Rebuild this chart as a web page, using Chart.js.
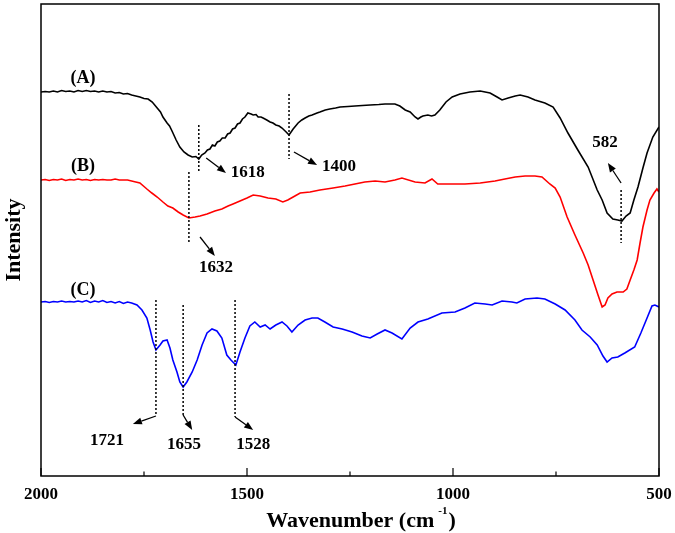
<!DOCTYPE html>
<html><head><meta charset="utf-8">
<script src="https://cdn.jsdelivr.net/npm/chart.js@4.4.1/dist/chart.umd.min.js"></script>
<style>html,body{margin:0;padding:0;background:#fff}</style>
</head><body>
<canvas id="c" width="675" height="533"></canvas>
<script>
// ---------- data (wavenumber in cm-1, intensity in arbitrary units) ----------
const wnA = [2000,1990,1980,1970,1960,1950,1940,1930,1920,1910,
  1900,1890,1880,1870,1860,1850,1840,1830,1820,1810,
  1800,1790,1780,1770,1760,1750,1740,1730,1718,1710,
  1704,1694,1688,1682,1672,1663,1653,1643,1633,1624,
  1617,1610,1602,1596,1590,1584,1578,1572,1566,1560,
  1553,1547,1541,1535,1529,1523,1517,1511,1505,1498,
  1490,1485,1478,1473,1466,1461,1452,1444,1437,1430,
  1422,1415,1405,1398,1388,1376,1367,1359,1350,1342,
  1330,1323,1310,1299,1285,1274,1255,1238,1220,1201,
  1180,1165,1150,1141,1129,1116,1104,1092,1085,1078,
  1073,1061,1052,1044,1032,1017,1002,983,959,934,
  910,893,881,866,849,837,818,801,777,757,
  740,721,697,672,650,638,626,612,600,590,
  580,570,561,551,539,529,515,500];
const intA = [384,384.5,384,385,384,385.5,384.5,385,384,385.5,
  384.5,385.5,384.5,385,384,385,384,384.5,383,383.5,
  382,382.5,381,380,379,377.5,377,374,368,364,
  359,353,350,345,336,329,324,321,319,319.5,
  317,321,323,326,327,331,330,334,335,338,
  338,342,343,347,348,352,353,357,359,363,
  362,361,361.5,359,359,358,356,354,353,351,
  350,348,344,341,347,353,356,358,360,361,
  363,364,366,367,368,369,369.5,370,370.5,371,
  371.5,372,372,372,370,366,364,359,357,359,
  360,361,360,361,366,374,379,382,384,385,
  383,379,376,378,380,381,379,376,373,369,
  358,343,326,309,286,276,263,257,256,255,
  260,263,276,289,308,323,339,349];

const wnB = [2000,1990,1980,1970,1960,1950,1940,1930,1920,1910,
  1900,1890,1880,1870,1860,1850,1840,1830,1820,1810,
  1800,1790,1780,1770,1760,1743,1731,1718,1704,1692,
  1680,1667,1655,1641,1626,1614,1597,1578,1561,1546,
  1534,1517,1500,1485,1468,1449,1430,1413,1401,1388,
  1371,1347,1323,1291,1262,1238,1214,1189,1165,1141,
  1124,1092,1068,1051,1037,1007,971,934,898,874,
  849,825,801,784,765,752,740,723,704,684,
  672,660,648,638,631,624,614,602,587,578,
  570,561,553,546,539,529,522,512,505,500];
const intB = [296,296.5,295.5,296.5,296,297,295.5,296.5,296,297,
  296,296.5,295.5,296.5,296,296.5,296,296,297,296,
  296,296,295,294,293,287,283,279,274,270,
  268,264,261,258,259,260,262,265,267,270,
  272,275,278,281,280,278,277,274,276,279,
  283,284,286,288,290,292,294,295,294,296,
  298,294,293,297,292,292,292,293,295,297,
  299,300,300,299,292,288,279,259,241,223,
  211,196,181,169,171,178,182,184,184,187,
  196,206,216,233,249,266,276,283,287,284];

const wnC = [2000,1990,1980,1970,1960,1950,1940,1930,1920,1910,
  1900,1890,1880,1870,1860,1850,1840,1830,1820,1810,
  1800,1790,1780,1767,1755,1743,1735,1728,1721,1711,
  1704,1694,1687,1680,1670,1663,1655,1646,1633,1621,
  1609,1597,1585,1573,1561,1549,1539,1527,1517,1505,
  1493,1481,1468,1456,1444,1430,1415,1403,1391,1376,
  1359,1342,1328,1311,1291,1269,1245,1221,1201,1184,
  1165,1148,1124,1104,1085,1061,1027,995,971,947,
  922,905,881,857,845,825,796,777,752,728,
  704,687,667,650,636,626,614,600,583,559,
  544,529,517,510,500];
const intC = [174,174.5,173.5,174.5,174,175,174,174.5,174,175,
  174,175.5,173.5,175,174,175.5,173.5,174.5,173,174.5,
  172.5,174,173,171,166,158,146,134,126,131,
  135,136,128,116,104,94,89,94,104,116,
  131,143,147,145,138,121,116,111,124,138,
  150,154,149,151,147,151,154,150,144,151,
  156,158,158,154,149,147,144,140,138,142,
  146,143,137,148,154,157,163,164,168,173,
  172,171,175,174,173,177,178,177,172,166,
  156,146,139,131,120,114,118,119,123,129,
  143,158,170,171,169];

const seriesNames = ['(A)', '(B)', '(C)'];
const seriesColors = ['#000000', '#ff0000', '#0000ff'];
const xTickValues = [2000, 1500, 1000, 500];
const xMinorTicks = [1750, 1250, 750];

// ---------- annotations (data units) ----------
const peakLabels = ['1618', '1400', '582', '1632', '1721', '1655', '1528'];
const peakLineWn = [1617, 1398, 592, 1641, 1721, 1655, 1529];
const peakLineTop = [351, 382, 286, 304, 176, 171, 176];
const peakLineBottom = [303, 317, 233, 233, 60, 61, 59];
const arrowFrom = [[1599, 318], [1386, 324], [592, 293], [1614, 239], [1721, 60], [1655, 61], [1529, 59]];
const arrowTo = [[1551, 303], [1330, 311], [624, 313], [1578, 220], [1777, 52], [1633, 46], [1485, 46]];
const labelAt = [[1498, 303], [1277, 309], [631, 333], [1575, 208], [1840, 35], [1653, 31], [1485, 31]];
const seriesLabelAt = [[1898, 398], [1898, 310], [1898, 186]];

const SERIF = '"Liberation Serif", "Times New Roman", serif';

function arrow(ctx, x1, y1, x2, y2) {
  const ang = Math.atan2(y2 - y1, x2 - x1);
  const hl = 9, hw = 3.5;
  const bx = x2 - hl * Math.cos(ang), by = y2 - hl * Math.sin(ang);
  ctx.beginPath(); ctx.moveTo(x1, y1); ctx.lineTo(bx, by); ctx.stroke();
  ctx.beginPath();
  ctx.moveTo(x2, y2);
  ctx.lineTo(bx + hw * Math.sin(ang), by - hw * Math.cos(ang));
  ctx.lineTo(bx - hw * Math.sin(ang), by + hw * Math.cos(ang));
  ctx.closePath(); ctx.fill();
}

const overlay = {
  id: 'overlay',
  afterDraw(chart) {
    const {ctx, chartArea: a, scales: {x, y}} = chart;
    ctx.save();
    ctx.strokeStyle = '#000'; ctx.fillStyle = '#000';
    // frame
    ctx.lineWidth = 1.5;
    ctx.strokeRect(a.left, a.top, a.right - a.left, a.bottom - a.top);
    // inward ticks
    ctx.lineWidth = 1.2;
    xTickValues.forEach(v => { const px = x.getPixelForValue(v); ctx.beginPath(); ctx.moveTo(px, a.bottom); ctx.lineTo(px, a.bottom - 8); ctx.stroke(); });
    xMinorTicks.forEach(v => { const px = x.getPixelForValue(v); ctx.beginPath(); ctx.moveTo(px, a.bottom); ctx.lineTo(px, a.bottom - 4.5); ctx.stroke(); });
    // dotted peak lines
    ctx.lineWidth = 1.5;
    ctx.setLineDash([2, 2]);
    peakLineWn.forEach((w, i) => {
      const px = x.getPixelForValue(w);
      ctx.beginPath(); ctx.moveTo(px, y.getPixelForValue(peakLineTop[i])); ctx.lineTo(px, y.getPixelForValue(peakLineBottom[i])); ctx.stroke();
    });
    ctx.setLineDash([]);
    // arrows
    ctx.lineWidth = 1.3;
    arrowFrom.forEach((f, i) => {
      const t = arrowTo[i];
      arrow(ctx, x.getPixelForValue(f[0]), y.getPixelForValue(f[1]), x.getPixelForValue(t[0]), y.getPixelForValue(t[1]));
    });
    // peak labels
    ctx.textAlign = 'center'; ctx.textBaseline = 'middle';
    ctx.font = 'bold 17px ' + SERIF;
    peakLabels.forEach((t, i) => ctx.fillText(t, x.getPixelForValue(labelAt[i][0]), y.getPixelForValue(labelAt[i][1])));
    // series labels
    ctx.font = 'bold 18px ' + SERIF;
    seriesNames.forEach((t, i) => ctx.fillText(t, x.getPixelForValue(seriesLabelAt[i][0]), y.getPixelForValue(seriesLabelAt[i][1])));
    // x axis title with superscript
    const main = 'Wavenumber (cm', sup = '-1', close = ')';
    ctx.font = 'bold 22px ' + SERIF; const wMain = ctx.measureText(main).width; const wClose = ctx.measureText(close).width;
    ctx.font = 'bold 11px ' + SERIF; const wSup = ctx.measureText(sup).width;
    const total = wMain + 4 + wSup + 1 + wClose;
    let sx = 361 - total / 2;
    const base = 527;
    ctx.textAlign = 'left'; ctx.textBaseline = 'alphabetic';
    ctx.font = 'bold 22px ' + SERIF; ctx.fillText(main, sx, base); sx += wMain + 4;
    ctx.font = 'bold 11px ' + SERIF; ctx.fillText(sup, sx, base - 13); sx += wSup + 1;
    ctx.font = 'bold 22px ' + SERIF; ctx.fillText(close, sx, base);
    ctx.restore();
  }
};

function ds(i, wn, vals) {
  return {
    label: seriesNames[i],
    data: wn.map((w, k) => ({x: w, y: vals[k]})),
    borderColor: seriesColors[i], borderWidth: 1.6,
    pointRadius: 0, tension: 0, fill: false
  };
}

new Chart(document.getElementById('c'), {
  type: 'line',
  data: {datasets: [ds(0, wnA, intA), ds(1, wnB, intB), ds(2, wnC, intC)]},
  options: {
    responsive: false, animation: false, devicePixelRatio: 1,
    layout: {padding: {left: 0, top: 4, right: 16, bottom: 0}},
    plugins: {legend: {display: false}, tooltip: {enabled: false}},
    scales: {
      x: {
        type: 'linear', reverse: true, min: 500, max: 2000,
        afterBuildTicks(s) { s.ticks = xTickValues.map(v => ({value: v})); },
        grid: {display: false, drawTicks: false}, border: {display: false},
        ticks: {color: '#000', font: {family: SERIF, size: 17, weight: 'bold'}, padding: 8, maxRotation: 0, autoSkip: false,
          callback: v => String(v)},
        afterFit(s) { s.height = 57; s.paddingLeft = 0; s.paddingRight = 0; }
      },
      y: {
        min: 0, max: 472,
        grid: {display: false, drawTicks: false}, border: {display: false},
        ticks: {display: false},
        title: {display: true, text: 'Intensity', color: '#000', font: {family: SERIF, size: 22, weight: 'bold'}, padding: {top: 1, bottom: 0}},
        afterFit(s) { s.width = 41; }
      }
    }
  },
  plugins: [overlay]
});
</script>
</body></html>
